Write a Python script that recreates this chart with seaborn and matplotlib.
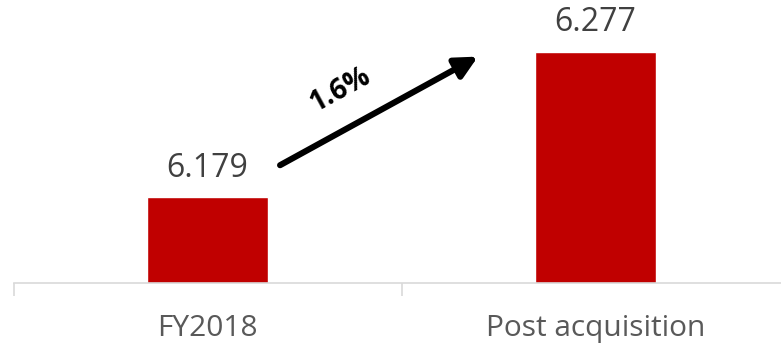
import matplotlib
matplotlib.use("Agg")
import matplotlib.pyplot as plt
import seaborn as sns
import pandas as pd

categories = ["FY2018", "Post acquisition"]
values = [6.179, 6.277]
value_labels = ["6.179", "6.277"]
growth_label = "1.6%"

sns.set_theme(style="white")
plt.rcParams["font.family"] = ["Open Sans", "DejaVu Sans"]

df = pd.DataFrame({"category": categories, "value": values})

fig = plt.figure(figsize=(7.81, 3.45), dpi=100)
ax = fig.add_axes([13.5 / 781, 62 / 345, 776 / 781, 283 / 345])

sns.barplot(data=df, x="category", y="value", color="#C00000", width=0.312,
            saturation=1, ax=ax)

ax.set_ylim(6.121, 6.312)
ax.set_xlim(-0.5, 1.5)

# value labels above bars
for i, (v, lab) in enumerate(zip(values, value_labels)):
    ax.annotate(lab, (i, v), xytext=(0, 9), textcoords="offset points",
                ha="center", va="bottom", fontsize=23, color="#404040")

# growth arrow between bars
ax.annotate("", xy=(0.697, 6.2738), xytext=(0.187, 6.2005),
            arrowprops=dict(arrowstyle="-|>,head_length=1.1,head_width=0.55",
                            lw=4.4, color="black", shrinkA=0, shrinkB=0))
ax.text(0.343, 6.251, growth_label, rotation=28.6, ha="center", va="center",
        fontsize=20, fontweight="bold", color="black")

# axes styling
for s in ["left", "right", "top"]:
    ax.spines[s].set_visible(False)
ax.spines["bottom"].set_color("#D9D9D9")
ax.spines["bottom"].set_linewidth(1.2)
ax.set_yticks([])
ax.set_xlabel("")
ax.set_ylabel("")
ax.set_xticks([-0.5, 0.5, 1.5], minor=False)
ax.set_xticklabels(["", "", ""])
ax.tick_params(axis="x", which="major", length=9, width=1.2, color="#D9D9D9",
               direction="out", bottom=True)
ax.set_xticks([0, 1], minor=True)
ax.set_xticklabels(categories, minor=True)
ax.tick_params(axis="x", which="minor", length=0, pad=22, labelsize=21.5,
               labelcolor="#595959")

fig.savefig("out.png", dpi=100)
